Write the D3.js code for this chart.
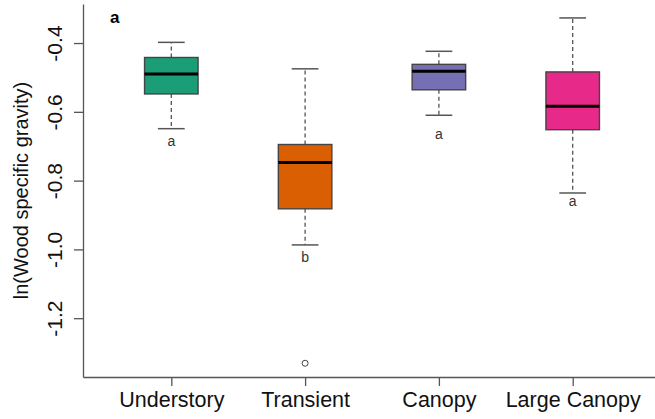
<!DOCTYPE html>
<html>
<head>
<meta charset="utf-8">
<script src="https://cdn.jsdelivr.net/npm/d3@7"></script>
<style>
  body { margin: 0; background: #fff; }
  svg { display: block; font-family: "Liberation Sans", Arial, sans-serif; }
</style>
</head>
<body>
<svg id="chart" width="655" height="419"></svg>
<script>
// box statistics (log scale values)
const categories = ["Understory", "Transient", "Canopy", "Large Canopy"];
const lowerWhisker = [-0.649, -0.987, -0.610, -0.836];
const q1 = [-0.548, -0.882, -0.536, -0.652];
const medians = [-0.490, -0.747, -0.482, -0.584];
const q3 = [-0.442, -0.695, -0.462, -0.484];
const upperWhisker = [-0.398, -0.475, -0.424, -0.327];
const outliers = [[], [-1.331], [], []];
const groupLetters = ["a", "b", "a", "a"];
const letterPos = [-0.698, -1.038, -0.679, -0.875];
const colors = ["#1B9E77", "#D95F02", "#7570B3", "#E7298A"];
const yTicks = [-0.4, -0.6, -0.8, -1.0, -1.2];

const svg = d3.select("#chart");

// R-style ranges: x 0.5..4.5 plus 4%, y data range plus 4%
let x = d3.scaleLinear().domain([0.34, 4.66]).range([83, 661]);
let y = d3.scaleLinear().domain([-1.371, -0.2865]).range([377, 4]);

let boxW = x(1.4) - x(1);     // boxwex 0.8
let capW = boxW / 2;          // staplewex 0.5

let data = categories.map((c, i) => ({
  name: c, pos: i + 1, lo: lowerWhisker[i], q1: q1[i], med: medians[i],
  q3: q3[i], hi: upperWhisker[i], out: outliers[i], letter: groupLetters[i],
  letterY: letterPos[i], color: colors[i]
}));

let g = svg.append("g");
let boxes = g.selectAll("g.box").data(data).enter().append("g").attr("class", "box");

// whiskers (dashed)
boxes.append("line")
  .attr("x1", d => x(d.pos)).attr("x2", d => x(d.pos))
  .attr("y1", d => y(d.q3)).attr("y2", d => y(d.hi))
  .attr("stroke", "#555").attr("stroke-width", 1.3).attr("stroke-dasharray", "4,3");
boxes.append("line")
  .attr("x1", d => x(d.pos)).attr("x2", d => x(d.pos))
  .attr("y1", d => y(d.q1)).attr("y2", d => y(d.lo))
  .attr("stroke", "#555").attr("stroke-width", 1.3).attr("stroke-dasharray", "4,3");

// staples
["hi", "lo"].forEach(k => {
  boxes.append("line")
    .attr("x1", d => x(d.pos) - capW / 2).attr("x2", d => x(d.pos) + capW / 2)
    .attr("y1", d => y(d[k])).attr("y2", d => y(d[k]))
    .attr("stroke", "#555").attr("stroke-width", 1.5);
});

// boxes
boxes.append("rect")
  .attr("x", d => x(d.pos) - boxW / 2)
  .attr("width", boxW)
  .attr("y", d => y(d.q3))
  .attr("height", d => y(d.q1) - y(d.q3))
  .attr("fill", d => d.color)
  .attr("stroke", "#444").attr("stroke-width", 1.4);

// medians
boxes.append("line")
  .attr("x1", d => x(d.pos) - boxW / 2).attr("x2", d => x(d.pos) + boxW / 2)
  .attr("y1", d => y(d.med)).attr("y2", d => y(d.med))
  .attr("stroke", "#000").attr("stroke-width", 3);

// outliers
boxes.selectAll("circle")
  .data(d => d.out.map(v => ({ pos: d.pos, v: v })))
  .enter().append("circle")
  .attr("cx", d => x(d.pos)).attr("cy", d => y(d.v)).attr("r", 3)
  .attr("fill", "none").attr("stroke", "#444").attr("stroke-width", 1);

// significance letters
boxes.append("text")
  .attr("x", d => x(d.pos)).attr("y", d => y(d.letterY))
  .attr("text-anchor", "middle")
  .attr("font-size", 14).attr("fill", "#333")
  .text(d => d.letter);

// y axis, labels parallel to axis like R
let yAxis = svg.append("g")
  .attr("transform", "translate(83,0)")
  .call(d3.axisLeft(y).tickValues(yTicks).tickSize(9).tickSizeOuter(0)
    .tickFormat(v => v.toFixed(1)));
yAxis.select(".domain").attr("stroke", "#555").attr("stroke-width", 1.3);
yAxis.selectAll(".tick line").attr("stroke", "#555").attr("stroke-width", 1.3);
yAxis.selectAll(".tick text")
  .attr("transform", "rotate(-90)")
  .attr("x", 0).attr("y", -21).attr("dy", 0)
  .attr("text-anchor", "middle")
  .attr("font-size", 21).attr("font-family", null).attr("fill", "#111");

// x axis
let xAxis = svg.append("g")
  .attr("transform", "translate(0,377)")
  .call(d3.axisBottom(x).tickValues([1, 2, 3, 4]).tickSize(9).tickSizeOuter(0)
    .tickFormat(i => categories[i - 1]));
xAxis.select(".domain").attr("stroke", "#555").attr("stroke-width", 1.3);
xAxis.selectAll(".tick line").attr("stroke", "#555").attr("stroke-width", 1.3);
xAxis.selectAll(".tick text")
  .attr("y", 30).attr("dy", 0)
  .attr("font-size", 21.5).attr("font-family", null).attr("fill", "#111");

// axis title
svg.append("text")
  .attr("transform", `translate(28,${(4 + 377) / 2}) rotate(-90)`)
  .attr("text-anchor", "middle")
  .attr("font-size", 20).attr("fill", "#111")
  .text("ln(Wood specific gravity)");

// panel tag
svg.append("text")
  .attr("x", 110).attr("y", 23)
  .attr("font-size", 17).attr("font-weight", "bold")
  .text("a");
</script>
</body>
</html>
